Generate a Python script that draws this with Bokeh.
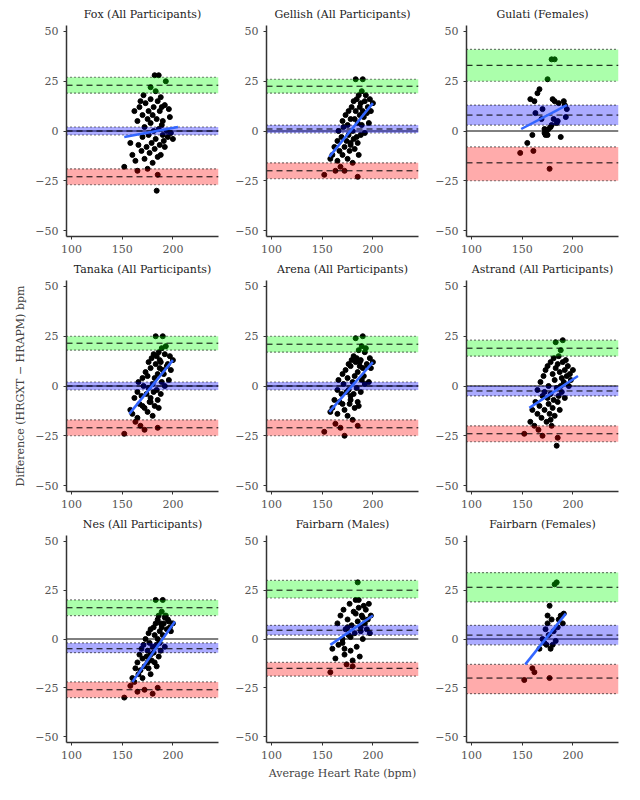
from bokeh.plotting import figure
from bokeh.layouts import gridplot
from bokeh.models import Range1d, FixedTicker
from bokeh.embed import file_html
from bokeh.resources import INLINE

titles = ["Fox (All Participants)", "Gellish (All Participants)", "Gulati (Females)",
          "Tanaka (All Participants)", "Arena (All Participants)", "Astrand (All Participants)",
          "Nes (All Participants)", "Fairbarn (Males)", "Fairbarn (Females)"]

# bands: (center, ci_low, ci_high) for upper LoA, bias, lower LoA
upper = [(23, 19, 27), (22.5, 19, 26), (33, 25, 41), (21.5, 18, 25), (21, 17, 25),
         (19, 15, 23), (16, 12, 20), (25, 21, 30), (26.5, 19, 34)]
bias = [(0, -2, 2), (1, -1, 3), (8, 3, 13), (0, -2, 2), (0, -2, 2),
        (-2.5, -5, 0), (-5, -7, -2), (4.5, 2, 7), (2, -3, 7)]
lower = [(-23, -27, -19), (-20, -24, -16), (-16, -25, -8), (-21, -25, -17), (-21, -25, -17),
         (-24, -28, -20), (-26, -30, -22), (-15, -19, -12), (-20, -28, -13)]
# regression line endpoints (x0, y0, x1, y1)
regs = [(152, -3, 205, 2), (157, -13, 200, 14), (149, 1, 194, 13), (157, -14, 200, 13),
        (157, -13, 200, 12), (157, -11, 205, 5), (160, -22, 202, 9), (158, -3, 200, 12),
        (153, -13, 193, 13)]

x_all = [152,158,160,162,163,165,165,166,167,168,169,170,170,171,172,172,173,174,175,175,
         176,176,177,178,178,179,180,180,181,181,182,182,183,183,184,184,185,185,186,186,
         187,187,188,188,189,189,190,190,191,192,192,193,194,195,196,197,198,200,185,178]
y_fox = [-18,-6,-12,10,-15,-20,5,-7,12,15,-10,8,-3,18,-14,2,14,-8,6,-19,10,-2,-11,16,4,-6,8,-16,12,0,
         -9,28,-4,20,6,-30,15,-13,28,1,10,-7,-12,17,3,12,-2,5,-5,13,-8,25,0,-3,11,7,-1,-4,-22,22]
y_gellish = [-22,-14,-12,-8,-20,-5,-15,0,-10,-18,-3,5,-12,2,-8,-20,8,-5,3,-14,10,-2,-10,6,-7,12,0,-16,15,-4,
             6,-9,10,26,-3,16,-6,4,18,-12,8,12,-2,14,20,3,10,26,7,15,-1,18,9,12,4,16,10,14,-23,-6]
y_tanaka = [-24,-12,-14,-6,-18,-3,-16,2,-9,-20,-5,4,-10,0,-11,-22,7,-4,5,-13,12,-1,-8,9,-6,14,1,-15,16,-3,
            4,-10,11,25,-2,15,-7,6,17,-11,9,13,-4,12,19,2,8,25,6,16,0,20,10,11,3,15,8,13,-21,-8]
y_arena = [-23,-13,-11,-7,-19,-2,-14,3,-8,-21,-4,6,-9,1,-12,-25,8,-3,4,-15,11,-2,-9,10,-5,13,2,-17,15,-4,
           5,-11,12,24,-1,14,-8,7,18,-10,10,12,-3,13,20,3,9,25,5,17,1,19,11,10,2,14,9,12,-20,-7]
y_astrand = [-24,-18,-12,-20,-8,-14,-2,-22,-10,2,-16,-5,-25,5,-12,-3,8,-18,-6,10,-9,0,-14,12,-4,-20,6,-11,14,-7,
             3,-15,9,22,-1,-30,11,-8,15,-5,7,-12,0,18,4,-3,12,23,2,8,-6,13,5,10,0,6,3,8,-26,-17]
y_nes = [-30,-24,-20,-22,-15,-27,-12,-18,-8,-16,-5,-20,-10,-3,-14,-26,0,-9,-6,-12,3,-15,-2,-8,5,-11,-4,-28,6,-7,
         2,-12,8,20,-3,-14,10,0,12,-9,4,-2,8,-6,14,6,2,20,8,11,-4,12,5,10,9,6,4,8,-25,-18]
x_gulati = [148,155,158,160,161,162,163,165,167,169,170,172,172,173,174,175,176,177,178,179,
            180,181,182,175,179,182,185,188,191,192,193,194,186,184]
y_gulati = [-11,-6,16,-2,-10,15,9,19,21,6,11,1,-1,-2,0,-2,1,-19,2,3,
            16,6,15,26,36,36,5,-3,15,13,7,11,14,4]
x_fm = [158,160,163,165,166,168,170,171,172,173,174,175,176,177,178,179,180,181,182,183,
        184,185,186,187,188,189,190,191,192,193,194,195,196,197,198,170,175,180,185,190,
        178,183,188,172,186]
y_fm = [-17,-5,-10,8,-3,12,0,15,-8,5,-13,10,2,18,-6,7,-11,14,3,20,
        -4,9,16,-9,6,12,0,17,8,15,5,10,18,3,12,-2,6,-14,29,11,1,13,4,-5,20]
x_ff = [152,160,162,167,170,172,173,174,175,176,177,178,179,180,181,182,184,185,186,188,190,191,175,183,177]
y_ff = [-21,-15,-17,-5,0,-2,5,-3,8,2,17,-5,10,-3,4,28,29,6,10,12,8,13,12,-1,-20]

xs = [x_all, x_all, x_gulati, x_all, x_all, x_all, x_all, x_fm, x_ff]
ys = [y_fox, y_gellish, y_gulati, y_tanaka, y_arena, y_astrand, y_nes, y_fm, y_ff]

FONT = "DejaVu Serif"
XMIN, XMAX = 95, 245
figs = []
for i in range(9):
    row, col = divmod(i, 3)
    h = 272 if row == 2 else 255
    w = 222 if col == 0 else 200
    mbl = 66 if col == 0 else 44
    p = figure(width=w, height=h, output_backend="svg", toolbar_location=None,
               x_range=Range1d(XMIN, XMAX), y_range=Range1d(-53, 53),
               title=titles[i], min_border_left=mbl, min_border_right=4)
    p.title.align = "center"
    p.title.text_font = FONT
    p.title.text_font_size = "11px"
    p.title.text_font_style = "normal"
    p.title.text_color = "#222222"
    p.xgrid.visible = False
    p.ygrid.visible = False
    p.outline_line_color = None
    p.xaxis.ticker = FixedTicker(ticks=[100, 150, 200])
    p.yaxis.ticker = FixedTicker(ticks=[-50, -25, 0, 25, 50])
    for ax in (p.xaxis[0], p.yaxis[0]):
        ax.major_label_text_font = FONT
        ax.major_label_text_font_size = "11px"
        ax.major_label_text_color = "#555555"
        ax.axis_line_color = "#333333"
        ax.axis_line_width = 1.5
        ax.major_tick_line_color = "#333333"
        ax.minor_tick_line_color = None
        ax.major_tick_in = 0
        ax.major_tick_out = 3
        ax.axis_label_text_font = FONT
        ax.axis_label_text_font_style = "normal"
        ax.axis_label_text_font_size = "11px"
    if i == 3:
        p.yaxis.axis_label = "Difference (HRGXT − HRAPM) bpm"
    if i == 7:
        p.xaxis.axis_label = "Average Heart Rate (bpm)"

    p.scatter(xs[i], ys[i], size=5, color="black")
    p.segment([XMIN], [0], [XMAX], [0], line_color="black", line_width=1)
    for (c, lo, hi), col_ in zip([upper[i], bias[i], lower[i]], ["lime", "blue", "red"]):
        p.quad(left=[XMIN], right=[XMAX], bottom=[lo], top=[hi], fill_color=col_,
               fill_alpha=0.33, line_color=None)
        p.segment([XMIN, XMIN], [lo, hi], [XMAX, XMAX], [lo, hi], line_color="black",
                  line_dash="1 3", line_width=1.2)
        p.segment([XMIN], [c], [XMAX], [c], line_color="black", line_dash="6 4", line_width=1)
    x0, y0, x1, y1 = regs[i]
    p.line([x0, x1], [y0, y1], line_color="#3366ff", line_width=2.5)
    figs.append(p)

grid = gridplot([figs[0:3], figs[3:6], figs[6:9]], toolbar_location=None)
open("out.html", "w").write(file_html(grid, INLINE))
